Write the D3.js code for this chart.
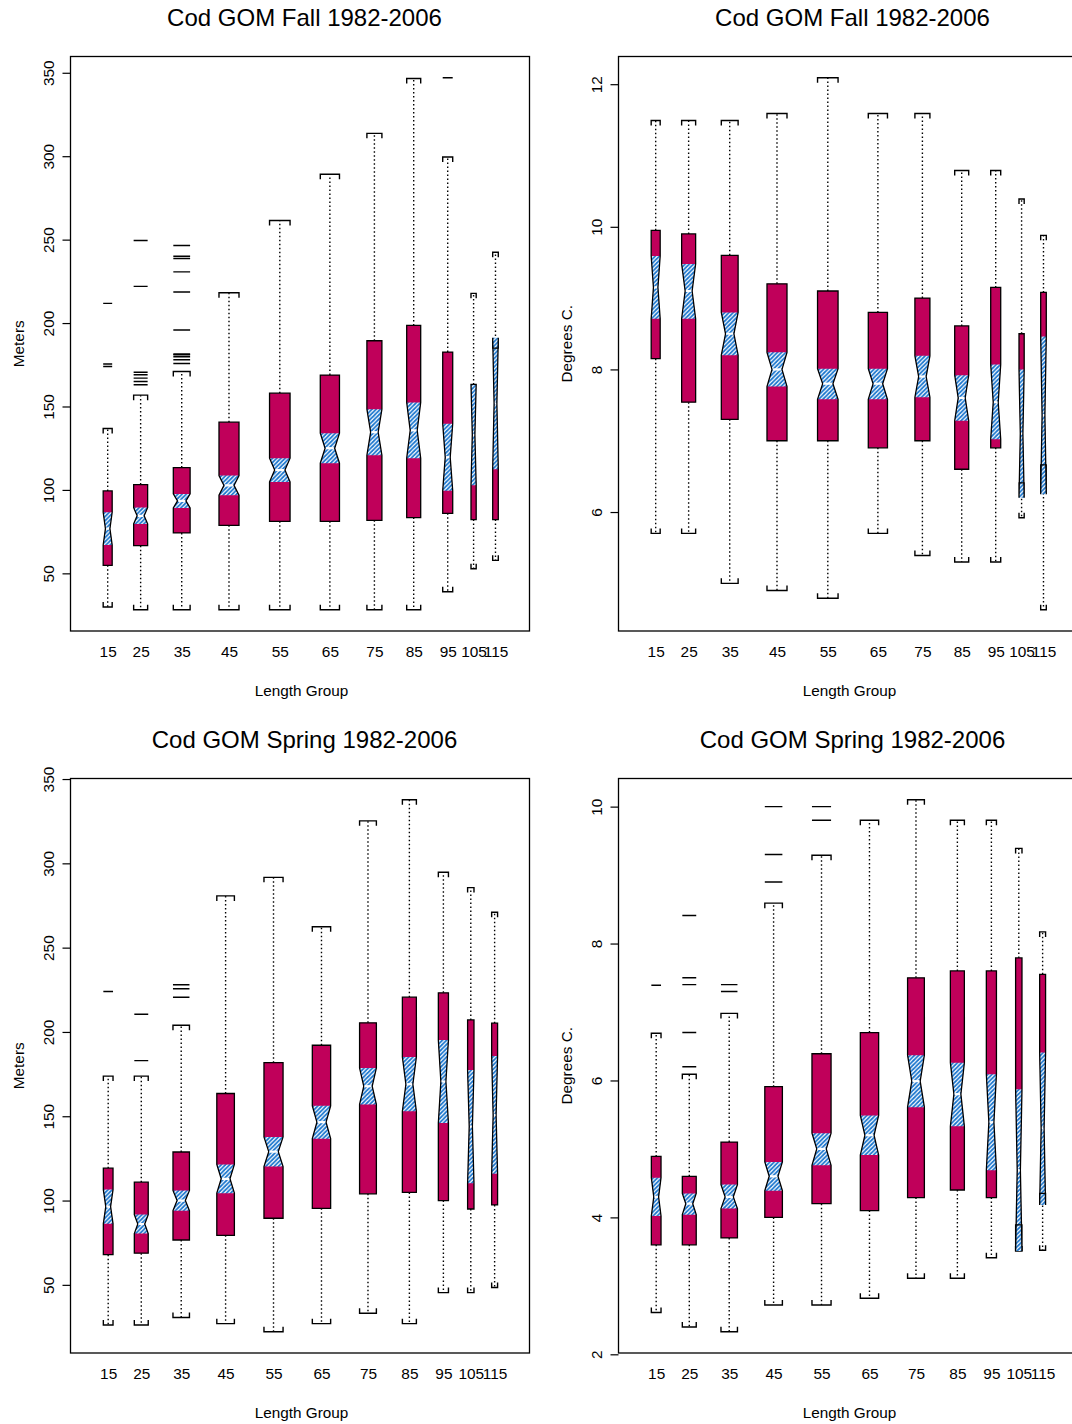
<!DOCTYPE html>
<html><head><meta charset="utf-8">
<script src="https://cdn.jsdelivr.net/npm/d3@7"></script>
<style>
body{margin:0;background:#fff}
svg{display:block}
text{font-family:"Liberation Sans",Arial,Helvetica,sans-serif;fill:#000}
</style>
</head><body>
<svg id="chart" width="1072" height="1424"></svg>
<script>
// ---------- data ----------
const groups = ["15","25","35","45","55","65","75","85","95","105","115"];
// group positions along the length axis (axis units 0-100)
const fallAt   = [8.10, 15.28, 24.23, 34.53, 45.60, 56.51, 66.21, 74.77, 82.18, 87.82, 92.59];
const springAt = [8.21, 15.42, 24.12, 33.79, 44.23, 54.68, 64.81, 73.83, 81.24, 87.21, 92.40];
// relative box widths (variable width ~ sample size)
const fallWidth   = [1.96, 3.05, 3.66, 4.36, 4.47, 4.18, 3.27, 3.05, 2.18, 1.13, 1.22];
const springWidth = [2.11, 3.03, 3.59, 3.83, 4.16, 3.99, 3.66, 3.05, 2.20, 1.39, 1.29];

// stats per group: [lowWhisker, Q1, notchLow, median, notchHigh, Q3, highWhisker]
const fallDepthStats = [
  [29.8, 54.8, 67.0, 76.8, 86.6, 99.4, 136.8],
  [28.2, 66.6, 79.6, 84.5, 89.4, 103.2, 156.8],
  [28.2, 74.2, 89.2, 93.4, 97.6, 113.4, 171.0],
  [28.2, 78.8, 96.8, 102.7, 108.6, 140.6, 218.2],
  [28.2, 81.2, 104.8, 111.9, 119.0, 158.0, 261.5],
  [28.2, 81.2, 116.0, 125.0, 134.0, 168.8, 289.2],
  [28.2, 81.8, 120.8, 134.6, 148.4, 189.4, 313.7],
  [28.2, 83.4, 119.0, 135.7, 152.4, 198.6, 346.6],
  [39.0, 86.0, 99.5, 119.6, 139.7, 182.6, 299.5],
  [52.8, 82.2, 102.8, 133.0, 163.2, 163.2, 217.8],
  [57.8, 82.2, 112.4, 151.8, 191.2, 185.0, 242.4]
];
const fallDepthOutliers = [
  [174.0, 175.5, 211.8],
  [163, 165, 167, 169, 170.5, 222.0, 249.5],
  [175.8, 178.0, 179.8, 181.0, 181.5, 195.8, 218.6, 230.7, 238.7, 240.0, 246.5],
  [], [], [], [], [],
  [347.0],
  [], []
];
const fallTempStats = [
  [5.70, 8.15, 8.71, 9.15, 9.59, 9.95, 11.49],
  [5.70, 7.54, 8.71, 9.10, 9.48, 9.90, 11.49],
  [5.00, 7.30, 8.20, 8.50, 8.80, 9.60, 11.49],
  [4.90, 7.00, 7.76, 8.00, 8.24, 9.20, 11.59],
  [4.79, 7.00, 7.58, 7.80, 8.01, 9.10, 12.09],
  [5.70, 6.90, 7.58, 7.80, 8.01, 8.80, 11.59],
  [5.39, 7.00, 7.61, 7.90, 8.19, 9.00, 11.59],
  [5.30, 6.60, 7.28, 7.60, 7.92, 8.61, 10.79],
  [5.30, 6.90, 7.02, 7.54, 8.07, 9.15, 10.79],
  [5.92, 6.41, 6.20, 7.10, 8.00, 8.50, 10.39],
  [4.63, 6.66, 6.25, 7.36, 8.46, 9.08, 9.88]
];
const fallTempOutliers = [[], [], [], [], [], [], [], [], [], [], []];

const springDepthStats = [
  [26.2, 67.9, 86.3, 96.4, 106.5, 119.2, 173.8],
  [26.2, 68.8, 80.4, 86.1, 91.7, 110.9, 173.8],
  [30.6, 76.6, 94.0, 100.0, 106.0, 128.8, 204.0],
  [27.0, 79.4, 104.4, 112.9, 121.4, 163.5, 280.7],
  [22.2, 89.5, 120.2, 129.0, 137.7, 181.8, 291.7],
  [27.0, 95.4, 136.7, 146.5, 156.2, 192.1, 262.4],
  [33.2, 104.0, 157.0, 167.8, 178.6, 205.4, 325.2],
  [27.0, 104.8, 153.0, 169.0, 185.1, 220.6, 337.7],
  [45.4, 100.0, 146.0, 170.6, 195.2, 223.2, 294.7],
  [45.4, 95.0, 110.3, 143.9, 177.4, 207.1, 285.6],
  [48.4, 97.4, 115.9, 150.8, 185.7, 205.2, 271.0]
];
const springDepthOutliers = [
  [224.0],
  [183.0, 210.5],
  [220.6, 225.6, 228.0],
  [], [], [], [], [], [], [], []
];
const springTempStats = [
  [2.61, 3.60, 4.02, 4.30, 4.58, 4.89, 6.69],
  [2.40, 3.60, 4.04, 4.20, 4.35, 4.60, 6.09],
  [2.33, 3.70, 4.13, 4.30, 4.48, 5.10, 6.98],
  [2.72, 4.00, 4.39, 4.60, 4.81, 5.91, 8.59],
  [2.72, 4.20, 4.76, 5.00, 5.23, 6.39, 9.29],
  [2.82, 4.10, 4.91, 5.20, 5.49, 6.70, 9.80],
  [3.11, 4.29, 5.61, 5.99, 6.37, 7.50, 10.10],
  [3.11, 4.40, 5.33, 5.80, 6.26, 7.60, 9.80],
  [3.41, 4.29, 4.69, 5.39, 6.09, 7.60, 9.80],
  [3.51, 3.89, 3.51, 4.69, 5.87, 7.79, 9.39],
  [3.52, 4.35, 4.18, 5.30, 6.41, 7.55, 8.17]
];
const springTempOutliers = [
  [7.39],
  [6.2, 6.7, 7.4, 7.5, 8.41],
  [7.3, 7.4],
  [8.9, 9.3, 10.0],
  [9.8, 10.0],
  [], [], [], [], [], []
];

const depthTicks = [50, 100, 150, 200, 250, 300, 350];
const fallTempTicks = [6, 8, 10, 12];
const springTempTicks = [2, 4, 6, 8, 10];

// ---------- drawing ----------
const CRIMSON = "#C0005A";
const BLUE = "#1874CD";
const svg = d3.select("#chart");
svg.append("rect").attr("width",1072).attr("height",1424).attr("fill","#fff");

const defs = svg.append("defs");
const P = 4.2;
const pat = defs.append("pattern").attr("id","hatch")
  .attr("patternUnits","userSpaceOnUse").attr("width",P).attr("height",P);
pat.append("rect").attr("width",P).attr("height",P).attr("fill","#fff");
pat.append("path")
  .attr("d",`M${-P/2},${P/2} L${P/2},${-P/2} M0,${P} L${P},0 M${P/2},${1.5*P} L${1.5*P},${P/2}`)
  .attr("stroke",BLUE).attr("stroke-width",1.7);

const PW = 459, PH = 574.5;

function drawPanel(o) {
  const left = o.left, top = o.top;
  const g = svg.append("g");

  // y-domain: data range extended by 4% (R style)
  const all = o.stats.flat().concat(o.outliers.flat());
  const mn = d3.min(all), mx = d3.max(all), ext = (mx - mn) * 0.04;
  const y = d3.scaleLinear().domain([mn - ext, mx + ext]).range([top + PH, top]);
  const x = d3.scaleLinear().domain([0, 100]).range([left, left + PW]);

  const clipId = "clip" + o.id;
  defs.append("clipPath").attr("id", clipId).append("rect")
    .attr("x", left).attr("y", top).attr("width", PW).attr("height", PH);
  const plot = g.append("g").attr("clip-path", `url(#${clipId})`);

  o.stats.forEach((s, i) => {
    const [lo, q1, nl, med, nh, q3, hi] = s;
    const cx = x(o.at[i]);
    const w = (x(o.width[i]) - x(0)) / 2;
    const bg = plot.append("g");

    // whiskers (dotted)
    bg.append("line").attr("x1",cx).attr("x2",cx).attr("y1",y(q3)).attr("y2",y(hi))
      .attr("stroke","#000").attr("stroke-width",1.4).attr("stroke-dasharray","1.5,2.5");
    bg.append("line").attr("x1",cx).attr("x2",cx).attr("y1",y(q1)).attr("y2",y(lo))
      .attr("stroke","#000").attr("stroke-width",1.4).attr("stroke-dasharray","1.5,2.5");
    // staples (brackets)
    bg.append("path")
      .attr("d",`M${cx-w},${y(hi)+5}V${y(hi)}H${cx+w}V${y(hi)+5}`)
      .attr("fill","none").attr("stroke","#000").attr("stroke-width",1.4);
    bg.append("path")
      .attr("d",`M${cx-w},${y(lo)-5}V${y(lo)}H${cx+w}V${y(lo)-5}`)
      .attr("fill","none").attr("stroke","#000").attr("stroke-width",1.4);

    // R style notched outline
    const outline = [
      [cx-w, y(q1)], [cx-w, y(nl)], [cx-w/2, y(med)], [cx-w, y(nh)], [cx-w, y(q3)],
      [cx+w, y(q3)], [cx+w, y(nh)], [cx+w/2, y(med)], [cx+w, y(nl)], [cx+w, y(q1)]
    ];
    const line = d3.line();
    bg.append("path").attr("d", line(outline) + "Z").attr("fill", CRIMSON).attr("stroke","none");
    // hatched notch region
    const notch = [
      [cx-w, y(nl)], [cx-w/2, y(med)], [cx-w, y(nh)],
      [cx+w, y(nh)], [cx+w/2, y(med)], [cx+w, y(nl)]
    ];
    bg.append("path").attr("d", line(notch) + "Z").attr("fill","url(#hatch)").attr("stroke","none");
    bg.append("path").attr("d", line(outline) + "Z").attr("fill","none")
      .attr("stroke","#000").attr("stroke-width",1.3).attr("stroke-linejoin","miter");
    // median (white)
    bg.append("line").attr("x1",cx-w/2+0.8).attr("x2",cx+w/2-0.8).attr("y1",y(med)).attr("y2",y(med))
      .attr("stroke","#fff").attr("stroke-width",2.2);

    // outliers
    o.outliers[i].forEach(v => {
      bg.append("line").attr("x1",cx-w).attr("x2",cx+w).attr("y1",y(v)).attr("y2",y(v))
        .attr("stroke","#000").attr("stroke-width",1.4);
    });
  });

  // frame
  g.append("rect").attr("x",left).attr("y",top).attr("width",PW).attr("height",PH)
    .attr("fill","none").attr("stroke","#000").attr("stroke-width",1.3);

  // y axis
  const ya = g.append("g").attr("transform",`translate(${left},0)`)
    .call(d3.axisLeft(y).tickValues(o.ticks).tickSize(8).tickFormat(d3.format("d")));
  ya.select(".domain").remove();
  ya.selectAll(".tick line").attr("stroke","#000").attr("stroke-width",1.2);
  ya.selectAll(".tick text")
    .attr("transform","rotate(-90)").attr("x",0).attr("y",-17).attr("dy",null)
    .attr("text-anchor","middle").attr("font-size",15.4)
    .attr("font-family",'"Liberation Sans",Arial,sans-serif').attr("fill","#000");

  // x axis (labels only)
  const xa = g.append("g").attr("transform",`translate(0,${top+PH})`)
    .call(d3.axisBottom(x).tickValues(o.at).tickSize(0).tickPadding(14.6)
      .tickFormat((d,i) => groups[i]));
  xa.select(".domain").remove();
  xa.selectAll(".tick text").attr("font-size",15.4)
    .attr("font-family",'"Liberation Sans",Arial,sans-serif').attr("fill","#000");

  // titles and labels
  g.append("text").attr("x", left + PW/2 + 4.5).attr("y", top - 30.5)
    .attr("text-anchor","middle").attr("font-size",24).text(o.title);
  g.append("text").attr("x", left + PW/2 + 1.5).attr("y", top + PH + 65)
    .attr("text-anchor","middle").attr("font-size",15.3).text("Length Group");
  g.append("text").attr("transform",`translate(${left-47},${top+PH/2}) rotate(-90)`)
    .attr("text-anchor","middle").attr("font-size",15.3).text(o.ylabel);
}

drawPanel({id:"tl", left:70.5, top:56.5, title:"Cod GOM Fall 1982-2006", ylabel:"Meters",
  stats:fallDepthStats, outliers:fallDepthOutliers, at:fallAt, width:fallWidth, ticks:depthTicks});
drawPanel({id:"tr", left:618.5, top:56.5, title:"Cod GOM Fall 1982-2006", ylabel:"Degrees C.",
  stats:fallTempStats, outliers:fallTempOutliers, at:fallAt, width:fallWidth, ticks:fallTempTicks});
drawPanel({id:"bl", left:70.5, top:778.5, title:"Cod GOM Spring 1982-2006", ylabel:"Meters",
  stats:springDepthStats, outliers:springDepthOutliers, at:springAt, width:springWidth, ticks:depthTicks});
drawPanel({id:"br", left:618.5, top:778.5, title:"Cod GOM Spring 1982-2006", ylabel:"Degrees C.",
  stats:springTempStats, outliers:springTempOutliers, at:springAt, width:springWidth, ticks:springTempTicks});
</script>
</body></html>
